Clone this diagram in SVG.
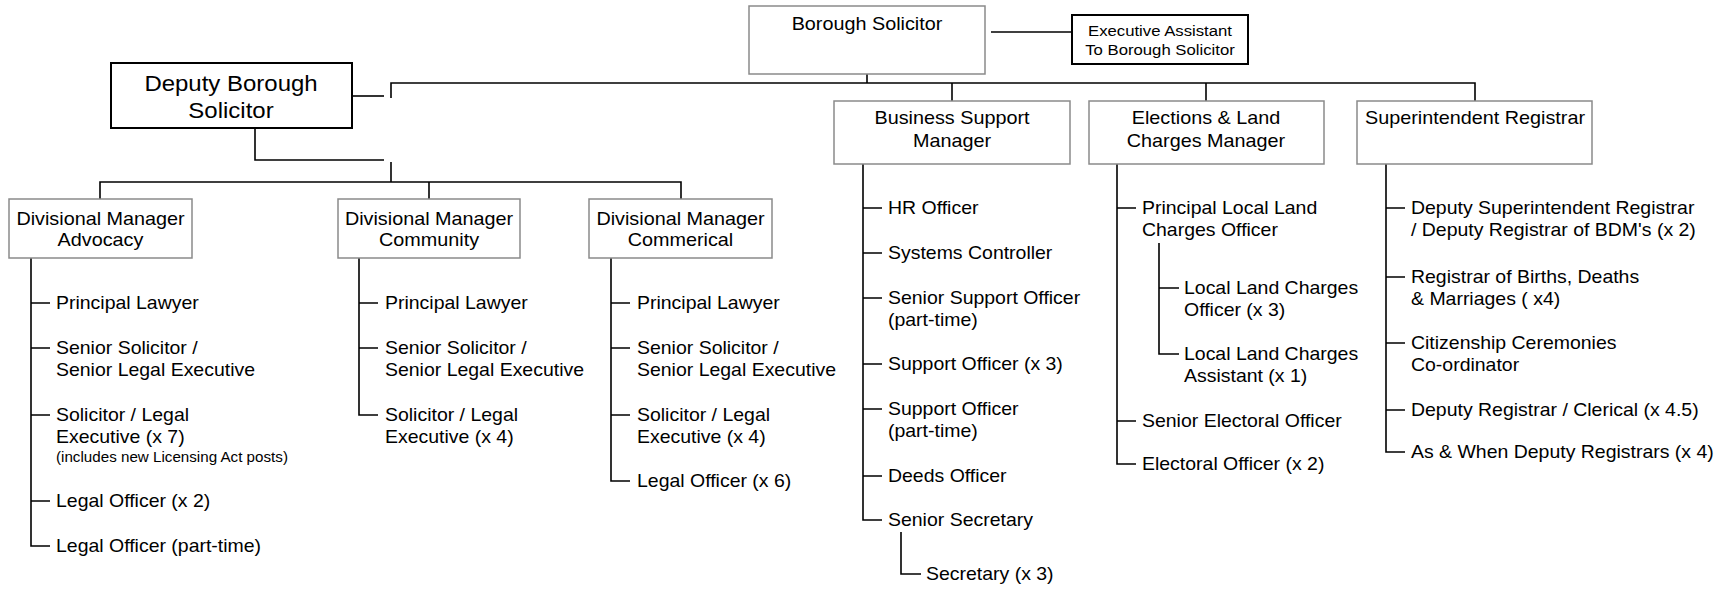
<svg xmlns="http://www.w3.org/2000/svg" width="1734" height="590" viewBox="0 0 1734 590">
<style>
.c{stroke:#000;stroke-width:1.6;fill:none}
.b{fill:#fff;stroke:#8a8a8a;stroke-width:1.5}
.bk{fill:#fff;stroke:#000;stroke-width:2}
.t{font-family:"Liberation Sans",Arial,sans-serif;fill:#000}
.ti{font-size:18px;text-anchor:middle}
.ch{font-size:17.7px}
.sm{font-size:13.8px}
.ea{font-size:15.2px;text-anchor:middle}
.dp{font-size:21.8px;text-anchor:middle}
</style>
<rect width="1734" height="590" fill="#fff"/>
<g id="connectors">
<path class="c" d="M352,96 H384"/>
<path class="c" d="M391,98 V83 H1475 V101"/>
<path class="c" d="M867,74 V83"/>
<path class="c" d="M952,83 V101"/>
<path class="c" d="M1206,83 V101"/>
<path class="c" d="M991,32 H1072"/>
<path class="c" d="M255,128 V160 H384"/>
<path class="c" d="M391,162 V182"/>
<path class="c" d="M100,199 V182 H681 V199"/>
<path class="c" d="M429,182 V199"/>
<path class="c" d="M31,258 V546 H50 M31,303 H50 M31,348 H50 M31,415 H50 M31,501 H50"/>
<path class="c" d="M359,258 V415 H378 M359,303 H378 M359,348 H378"/>
<path class="c" d="M611,258 V481 H630 M611,303 H630 M611,348 H630 M611,415 H630"/>
<path class="c" d="M863,164 V520 H882 M863,208 H882 M863,253 H882 M863,298 H882 M863,364 H882 M863,409 H882 M863,476 H882"/>
<path class="c" d="M901,532 V574 H921"/>
<path class="c" d="M1117,164 V464 H1136 M1117,208 H1136 M1117,421 H1136"/>
<path class="c" d="M1159,243 V354 H1179 M1159,288 H1179"/>
<path class="c" d="M1386,164 V452 H1405 M1386,208 H1405 M1386,277 H1405 M1386,343 H1405 M1386,410 H1405"/>
</g>
<g id="borough-solicitor">
<rect class="b" x="749" y="6" width="236" height="68"/>
<text class="t ti" transform="translate(867,30) scale(1.1,1)">Borough Solicitor</text>
</g>
<g id="executive-assistant">
<rect class="bk" x="1072" y="15" width="176" height="49"/>
<text class="t ea" transform="translate(1160,36) scale(1.1,1)"><tspan x="0">Executive Assistant</tspan><tspan x="0" dy="19">To Borough Solicitor</tspan></text>
</g>
<g id="deputy-borough-solicitor">
<rect class="bk" x="111" y="63" width="241" height="65"/>
<text class="t dp" transform="translate(231,91) scale(1.1,1)"><tspan x="0">Deputy Borough</tspan><tspan x="0" dy="27">Solicitor</tspan></text>
</g>
<g id="business-support-manager">
<rect class="b" x="834" y="101" width="236" height="63"/>
<text class="t ti" transform="translate(952,124) scale(1.1,1)"><tspan x="0">Business Support</tspan><tspan x="0" dy="23">Manager</tspan></text>
</g>
<g id="elections-manager">
<rect class="b" x="1089" y="101" width="235" height="63"/>
<text class="t ti" transform="translate(1206,124) scale(1.1,1)"><tspan x="0">Elections &amp; Land</tspan><tspan x="0" dy="23">Charges Manager</tspan></text>
</g>
<g id="superintendent-registrar">
<rect class="b" x="1357" y="101" width="235" height="63"/>
<text class="t ti" transform="translate(1475,124) scale(1.1,1)">Superintendent Registrar</text>
</g>
<g id="dm-advocacy">
<rect class="b" x="9" y="199" width="183" height="59"/>
<text class="t ti" transform="translate(100.5,225) scale(1.1,1)"><tspan x="0">Divisional Manager</tspan><tspan x="0" dy="21">Advocacy</tspan></text>
</g>
<g id="dm-community">
<rect class="b" x="338" y="199" width="182" height="59"/>
<text class="t ti" transform="translate(429,225) scale(1.1,1)"><tspan x="0">Divisional Manager</tspan><tspan x="0" dy="21">Community</tspan></text>
</g>
<g id="dm-commerical">
<rect class="b" x="589" y="199" width="183" height="59"/>
<text class="t ti" transform="translate(680.5,225) scale(1.1,1)"><tspan x="0">Divisional Manager</tspan><tspan x="0" dy="21">Commerical</tspan></text>
</g>
<g id="advocacy-staff">
<text class="t ch" transform="translate(56,309) scale(1.1,1)">Principal Lawyer</text>
<text class="t ch" transform="translate(56,354) scale(1.1,1)"><tspan x="0">Senior Solicitor /</tspan><tspan x="0" dy="22">Senior Legal Executive</tspan></text>
<text class="t ch" transform="translate(56,421) scale(1.1,1)"><tspan x="0">Solicitor / Legal</tspan><tspan x="0" dy="22">Executive (x 7)</tspan><tspan x="0" dy="19" class="sm">(includes new Licensing Act posts)</tspan></text>
<text class="t ch" transform="translate(56,507) scale(1.1,1)">Legal Officer (x 2)</text>
<text class="t ch" transform="translate(56,552) scale(1.1,1)">Legal Officer (part-time)</text>
</g>
<g id="community-staff">
<text class="t ch" transform="translate(385,309) scale(1.1,1)">Principal Lawyer</text>
<text class="t ch" transform="translate(385,354) scale(1.1,1)"><tspan x="0">Senior Solicitor /</tspan><tspan x="0" dy="22">Senior Legal Executive</tspan></text>
<text class="t ch" transform="translate(385,421) scale(1.1,1)"><tspan x="0">Solicitor / Legal</tspan><tspan x="0" dy="22">Executive (x 4)</tspan></text>
</g>
<g id="commerical-staff">
<text class="t ch" transform="translate(637,309) scale(1.1,1)">Principal Lawyer</text>
<text class="t ch" transform="translate(637,354) scale(1.1,1)"><tspan x="0">Senior Solicitor /</tspan><tspan x="0" dy="22">Senior Legal Executive</tspan></text>
<text class="t ch" transform="translate(637,421) scale(1.1,1)"><tspan x="0">Solicitor / Legal</tspan><tspan x="0" dy="22">Executive (x 4)</tspan></text>
<text class="t ch" transform="translate(637,487) scale(1.1,1)">Legal Officer (x 6)</text>
</g>
<g id="business-staff">
<text class="t ch" transform="translate(888,214) scale(1.1,1)">HR Officer</text>
<text class="t ch" transform="translate(888,259) scale(1.1,1)">Systems Controller</text>
<text class="t ch" transform="translate(888,304) scale(1.1,1)"><tspan x="0">Senior Support Officer</tspan><tspan x="0" dy="22">(part-time)</tspan></text>
<text class="t ch" transform="translate(888,370) scale(1.1,1)">Support Officer (x 3)</text>
<text class="t ch" transform="translate(888,415) scale(1.1,1)"><tspan x="0">Support Officer</tspan><tspan x="0" dy="22">(part-time)</tspan></text>
<text class="t ch" transform="translate(888,482) scale(1.1,1)">Deeds Officer</text>
<text class="t ch" transform="translate(888,526) scale(1.1,1)">Senior Secretary</text>
<text class="t ch" transform="translate(926,580) scale(1.1,1)">Secretary (x 3)</text>
</g>
<g id="elections-staff">
<text class="t ch" transform="translate(1142,214) scale(1.1,1)"><tspan x="0">Principal Local Land</tspan><tspan x="0" dy="22">Charges Officer</tspan></text>
<text class="t ch" transform="translate(1184,294) scale(1.1,1)"><tspan x="0">Local Land Charges</tspan><tspan x="0" dy="22">Officer (x 3)</tspan></text>
<text class="t ch" transform="translate(1184,360) scale(1.1,1)"><tspan x="0">Local Land Charges</tspan><tspan x="0" dy="22">Assistant (x 1)</tspan></text>
<text class="t ch" transform="translate(1142,427) scale(1.1,1)">Senior Electoral Officer</text>
<text class="t ch" transform="translate(1142,470) scale(1.1,1)">Electoral Officer (x 2)</text>
</g>
<g id="registrar-staff">
<text class="t ch" transform="translate(1411,214) scale(1.1,1)"><tspan x="0">Deputy Superintendent Registrar</tspan><tspan x="0" dy="22">/ Deputy Registrar of BDM's (x 2)</tspan></text>
<text class="t ch" transform="translate(1411,283) scale(1.1,1)"><tspan x="0">Registrar of Births, Deaths</tspan><tspan x="0" dy="22">&amp; Marriages ( x4)</tspan></text>
<text class="t ch" transform="translate(1411,349) scale(1.1,1)"><tspan x="0">Citizenship Ceremonies</tspan><tspan x="0" dy="22">Co-ordinator</tspan></text>
<text class="t ch" transform="translate(1411,416) scale(1.1,1)">Deputy Registrar / Clerical (x 4.5)</text>
<text class="t ch" transform="translate(1411,458) scale(1.1,1)">As &amp; When Deputy Registrars (x 4)</text>
</g>
</svg>
